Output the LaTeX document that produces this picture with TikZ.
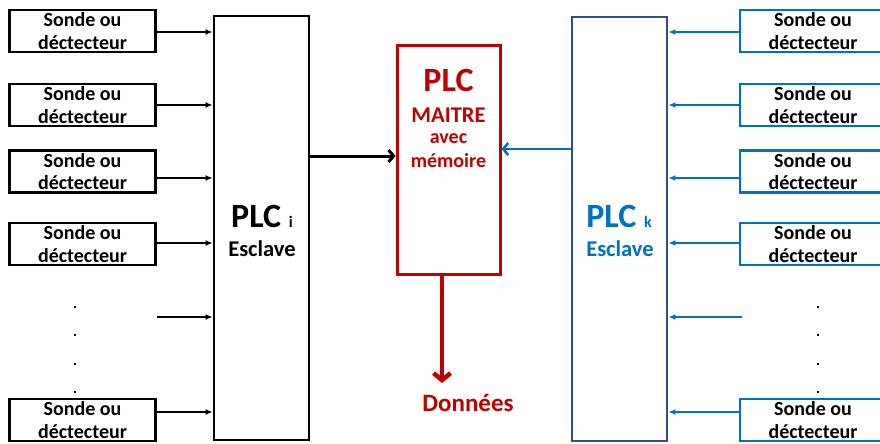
\documentclass[tikz,border=0pt]{standalone}
\usepackage{fontspec}
\setmainfont{Carlito}
\usetikzlibrary{arrows.meta}
\definecolor{rouge}{HTML}{C00000}
\definecolor{bleu}{HTML}{0070C0}
\definecolor{bleufonce}{HTML}{2A5188}
\begin{document}
\begin{tikzpicture}[x=1pt,y=-1pt,
  capteur/.style={draw, line width=2.8pt, minimum width=146pt, minimum height=42pt, inner sep=0pt,
    font=\bfseries\fontsize{20}{22.5}\selectfont, align=center},
  capteurg/.style={capteur, draw=black},
  capteurd/.style={capteur, draw=bleu},
  plcbox/.style={draw, line width=2.8pt, minimum width=95pt, minimum height=424pt, inner sep=0pt},
  entree/.style={-{Latex[length=7pt,width=6pt]}, line width=1.4pt},
  point/.style={fill=black, minimum size=2.6pt, inner sep=0pt, rectangle},
  grand/.style={font=\bfseries\fontsize{34}{36}\selectfont, inner sep=0pt},
  moyen/.style={font=\bfseries\fontsize{22.5}{24}\selectfont, inner sep=0pt},
  petit/.style={font=\bfseries\fontsize{20}{22}\selectfont, inner sep=0pt}
]
\useasboundingbox (0,0) rectangle (880,444);

% left sensors
\node[capteurg] (g1) at (82.5,31) {Sonde ou\\déctecteur};
\node[capteurg] (g2) at (82.5,105) {Sonde ou\\déctecteur};
\node[capteurg] (g3) at (82.5,171.5) {Sonde ou\\déctecteur};
\node[capteurg] (g4) at (82.5,244) {Sonde ou\\déctecteur};
\node[capteurg] (g5) at (82.5,420) {Sonde ou\\déctecteur};

% right sensors
\node[capteurd] (d1) at (813,31) {Sonde ou\\déctecteur};
\node[capteurd] (d2) at (813,105) {Sonde ou\\déctecteur};
\node[capteurd] (d3) at (813,171.5) {Sonde ou\\déctecteur};
\node[capteurd] (d4) at (813,244) {Sonde ou\\déctecteur};
\node[capteurd] (d5) at (813,420) {Sonde ou\\déctecteur};

% PLC boxes
\node[plcbox, draw=black] (plci) at (261.5,228) {};
\node[plcbox, draw=bleufonce] (plck) at (619.5,229) {};
\node[draw=rouge, line width=3pt, minimum width=103pt, minimum height=228pt, inner sep=0pt] (maitre) at (448.5,160) {};

% texts PLC i
\node[grand] (ti1) at (262,216) {PLC {\fontsize{16}{18}\selectfont i}};
\node[moyen] (ti2) at (262,249) {Esclave};
% texts PLC k
\node[grand, text=bleu] (tk1) at (619,216) {PLC {\fontsize{16}{18}\selectfont k}};
\node[moyen, text=bleu] (tk2) at (620,249) {Esclave};
% texts maitre
\node[grand, text=rouge] (tm1) at (448.5,80) {PLC};
\node[moyen, text=rouge] (tm2) at (448.5,115) {MAITRE};
\node[petit, text=rouge] (tm3) at (448.5,139) {avec};
\node[petit, text=rouge] (tm4) at (448.5,161) {mémoire};
\node[font=\bfseries\fontsize{25}{27}\selectfont, text=rouge, inner sep=0pt] (don) at (468,403) {Données};

% left input arrows
\foreach \s/\y in {g1/32, g2/105, g3/178, g4/243, g5/412}{
  \coordinate (a) at (0,\y);
  \draw[entree] (\s.east |- a) -- (plci.west |- a);
}
\coordinate (gm) at (157,317);
\draw[entree] (gm) -- (plci.west |- gm);

% right input arrows
\foreach \s/\y in {d1/32, d2/105, d3/178, d4/243, d5/412}{
  \coordinate (b) at (0,\y);
  \draw[entree, draw=bleu, fill=bleu] (\s.west |- b) -- (plck.east |- b);
}
\coordinate (dm) at (742,317);
\draw[entree, draw=bleu] (dm) -- (plck.east |- dm);

% dots
\foreach \y in {307,335,364,392}{
  \node[point] at (75,\y) {};
  \node[point] at (818,\y) {};
}

% main arrows
\coordinate (c1) at (0,156);
\draw[line width=3pt, -{Straight Barb[length=5pt,width=12pt]}] (plci.east |- c1) -- (maitre.west |- c1);
\coordinate (c2) at (0,149);
\draw[line width=2.6pt, bleu, -{Straight Barb[length=5pt,width=12pt]}] (plck.west |- c2) -- (maitre.east |- c2);
\coordinate (c3) at (442,383);
\draw[line width=4.5pt, rouge, -{Straight Barb[length=7pt,width=17pt]}] (maitre.south -| c3) -- (c3);
\end{tikzpicture}
\end{document}
